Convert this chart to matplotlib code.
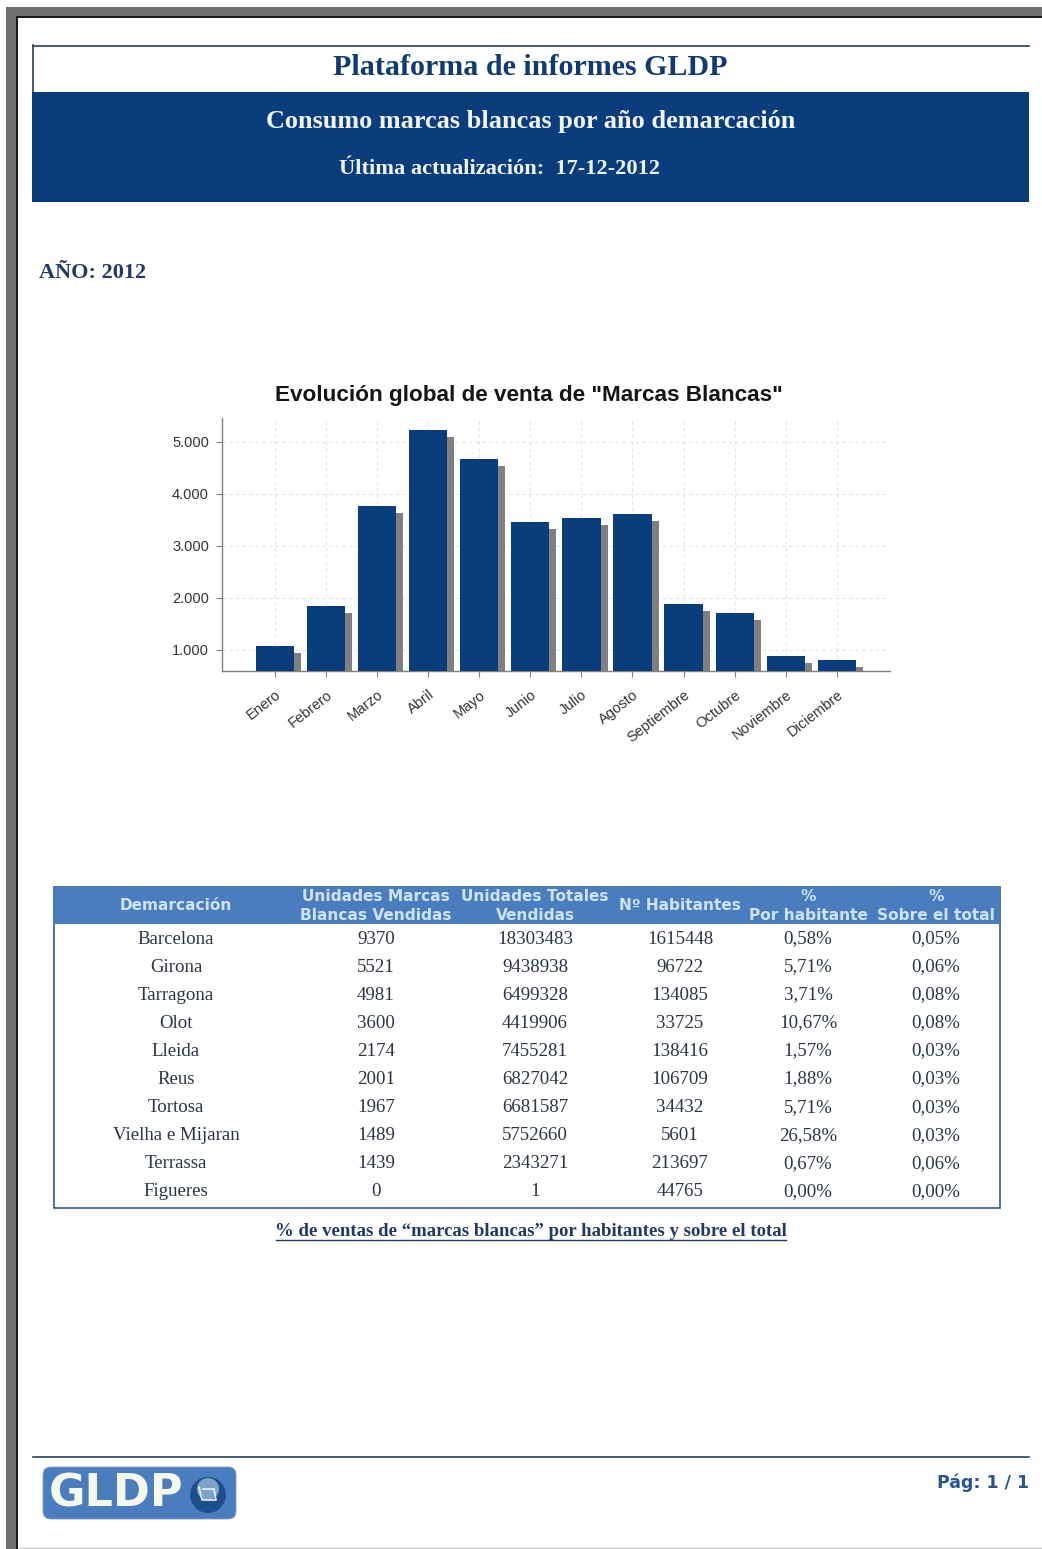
import matplotlib
matplotlib.use("Agg")
import matplotlib.pyplot as plt
from matplotlib.patches import Rectangle, FancyBboxPatch, Circle
from matplotlib.ticker import FuncFormatter
from matplotlib.transforms import ScaledTranslation

# Monthly sales for the chart
months = ["Enero", "Febrero", "Marzo", "Abril", "Mayo", "Junio", "Julio", "Agosto",
          "Septiembre", "Octubre", "Noviembre", "Diciembre"]
sales = [1077, 1846, 3770, 5230, 4667, 3460, 3533, 3610, 1873, 1700, 880, 800]
y_ticks = [1000, 2000, 3000, 4000, 5000]

# Table columns
col_headers = ["Demarcación", "Unidades Marcas\nBlancas Vendidas", "Unidades Totales\nVendidas",
               "Nº Habitantes", "%\nPor habitante", "%\nSobre el total"]
places = ["Barcelona", "Girona", "Tarragona", "Olot", "Lleida", "Reus", "Tortosa",
          "Vielha e Mijaran", "Terrassa", "Figueres"]
brand_units = [9370, 5521, 4981, 3600, 2174, 2001, 1967, 1489, 1439, 0]
total_units = [18303483, 9438938, 6499328, 4419906, 7455281, 6827042, 6681587, 5752660, 2343271, 1]
inhabitants = [1615448, 96722, 134085, 33725, 138416, 106709, 34432, 5601, 213697, 44765]
pct_inhabitant = ["0,58%", "5,71%", "3,71%", "10,67%", "1,57%", "1,88%", "5,71%", "26,58%", "0,67%", "0,00%"]
pct_total = ["0,05%", "0,06%", "0,08%", "0,08%", "0,03%", "0,03%", "0,03%", "0,03%", "0,06%", "0,00%"]

NAVY = "#0a3d7c"
MID_BLUE = "#4a7dbd"
TEXT_BLUE = "#1f3a63"
SERIF = "Liberation Serif"
W, H = 1042, 1549

fig = plt.figure(figsize=(W / 100, H / 100), dpi=100, facecolor="white")

# Page layer, in pixel units with y going down
page = fig.add_axes([0, 0, 1, 1])
page.set_xlim(0, W)
page.set_ylim(H, 0)
page.axis("off")

# Window frame on the left and top
page.add_patch(Rectangle((6, 7), 10, H - 7, fc="#707070", ec="none"))
page.add_patch(Rectangle((6, 7), W - 6, 9, fc="#707070", ec="none"))
page.add_patch(Rectangle((16, 16), 2, H - 16, fc="#1a1a1a", ec="none"))
page.add_patch(Rectangle((16, 16), W - 16, 2, fc="#1a1a1a", ec="none"))
page.plot([18, W], [1547.5, 1547.5], color="#c8c8c8", lw=1)

# Report header
page.plot([33, 1029], [45.5, 45.5], color="#24405f", lw=1.2)
page.plot([33, 33], [45, 92], color="#24405f", lw=1.2)
page.add_patch(Rectangle((32, 92), 997, 110, fc=NAVY, ec="none"))
page.text(530.5, 67, "Plataforma de informes GLDP", family=SERIF, weight="bold", size=21.6,
          color="#0f3a73", ha="center", va="center")
page.text(531, 121, "Consumo marcas blancas por año demarcación", family=SERIF, weight="bold",
          size=18.9, color="#f2f6fb", ha="center", va="center")
page.text(499.5, 169, "Última actualización:  17-12-2012", family=SERIF, weight="bold", size=16.1,
          color="#f2f6fb", ha="center", va="center")
page.text(39, 273, "AÑO: 2012", family=SERIF, weight="bold", size=16, color=TEXT_BLUE, ha="left", va="center")

# Bar chart with drop shadow
ax = fig.add_axes([221.5 / W, 1 - 671 / H, (890 - 221.5) / W, (671 - 418) / H])
positions = list(range(len(months)))
shadow = ax.transData + ScaledTranslation(7 / 100, -7 / 100, fig.dpi_scale_trans)
ax.bar(positions, sales, width=0.75, color="#808080", transform=shadow, zorder=2)
ax.bar(positions, sales, width=0.75, color=NAVY, zorder=3)
ax.set_xlim(-1.044, 12.04)
ax.set_ylim(587, 5460)
ax.set_yticks(y_ticks)
ax.yaxis.set_major_formatter(FuncFormatter(lambda v, _: f"{int(v):,}".replace(",", ".")))
ax.set_xticks(positions)
ax.set_xticklabels(months, rotation=38, ha="right", rotation_mode="anchor",
                   family="Liberation Sans", size=10.5, color="#333333")
for lab in ax.get_yticklabels():
    lab.set_family("Liberation Sans")
    lab.set_size(10.5)
    lab.set_color("#333333")
ax.tick_params(axis="both", length=4, width=0.8, color="#808080", pad=5)
ax.tick_params(axis="x", pad=8)
ax.grid(True, color="#e2e2e2", linestyle=(0, (3, 3)), linewidth=0.8, zorder=0)
ax.set_axisbelow(True)
for side in ["top", "right"]:
    ax.spines[side].set_visible(False)
for side in ["left", "bottom"]:
    ax.spines[side].set_color("#808080")
    ax.spines[side].set_linewidth(1.0)
page.text(528.5, 395.5, 'Evolución global de venta de "Marcas Blancas"', family="Liberation Sans",
          weight="bold", size=16.2, color="#151515", ha="center", va="center")

# Table
col_x = [176, 376, 535, 680, 808, 936]
row_y = [939, 967, 995, 1023, 1051, 1079, 1108, 1136, 1164, 1192]
page.add_patch(Rectangle((54, 887), 946, 321, fc="white", ec="#2d5c92", lw=1.2))
page.add_patch(Rectangle((54, 887), 946, 37, fc=MID_BLUE, ec="none"))
for x, head in zip(col_x, col_headers):
    parts = head.split("\n")
    if len(parts) == 2:
        page.text(x, 896.5, parts[0], family="DejaVu Sans", weight="bold", size=11.1,
                  color="#cfe3f6", ha="center", va="center")
        page.text(x, 915.5, parts[1], family="DejaVu Sans", weight="bold", size=11.1,
                  color="#cfe3f6", ha="center", va="center")
    else:
        page.text(x, 905, head, family="DejaVu Sans", weight="bold", size=11.1,
                  color="#cfe3f6", ha="center", va="center")
columns = [places, brand_units, total_units, inhabitants, pct_inhabitant, pct_total]
for x, values in zip(col_x, columns):
    for y, v in zip(row_y, values):
        page.text(x, y, str(v), family=SERIF, size=13.6, color="#2b3442", ha="center", va="center")

# Table caption, underlined by hand
page.text(531, 1232, "% de ventas de “marcas blancas” por habitantes y sobre el total", family=SERIF,
          weight="bold", size=13.5, color=TEXT_BLUE, ha="center", va="center")
page.plot([276, 786], [1239.5, 1239.5], color=TEXT_BLUE, lw=1)

# Footer with logo and page number
page.plot([33, 1029], [1456.5, 1456.5], color="#24405f", lw=1.2)
page.add_patch(FancyBboxPatch((49, 1473), 181, 40, boxstyle="round,pad=6,rounding_size=8",
                              fc=MID_BLUE, ec="#7f9cc4", lw=0.6))
page.text(116, 1494, "GLDP", family="DejaVu Sans", weight="bold", size=32, color="#f4f8ea",
          ha="center", va="center")
page.add_patch(Circle((208, 1495), 18, fc="#1d4f8c", ec="none"))
page.add_patch(Circle((208, 1489), 11, fc="#7fa3c6", ec="none"))
page.plot([199, 202, 216, 214, 203], [1487, 1500, 1500, 1489, 1489], color="#e8f0f6", lw=1.2)
page.text(1029, 1483, "Pág: 1 / 1", family="DejaVu Sans", weight="bold", size=12.5,
          color="#27558f", ha="right", va="center")

fig.savefig("out.png", dpi=100)
